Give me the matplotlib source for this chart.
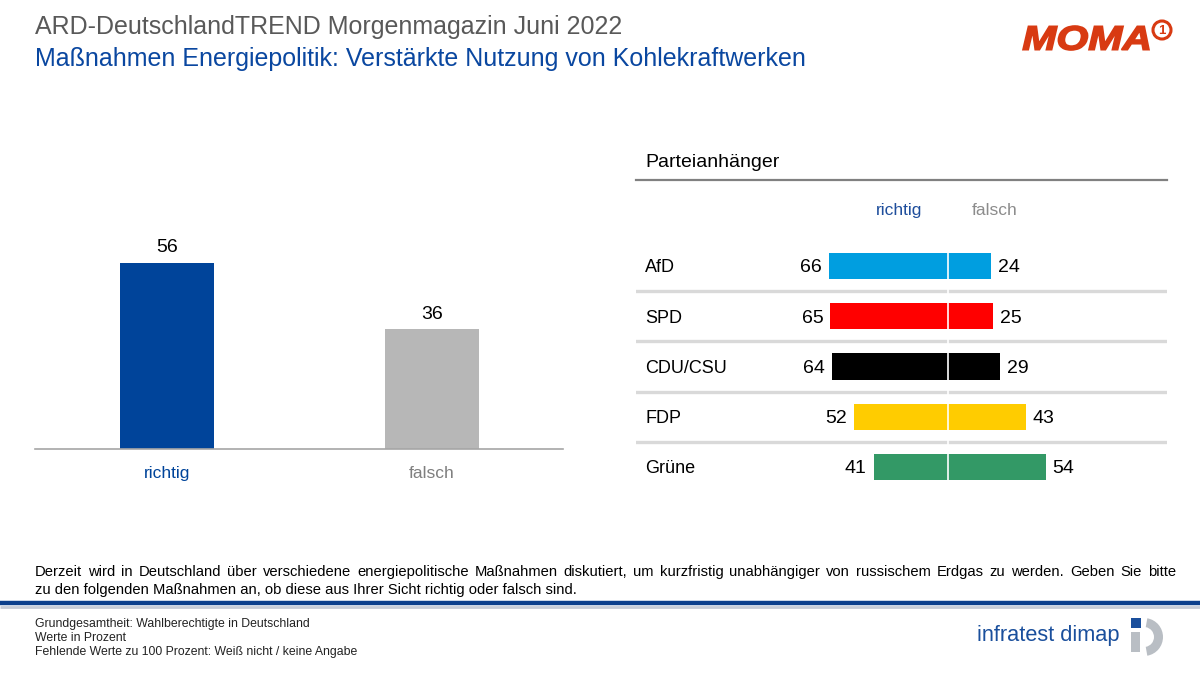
import matplotlib
matplotlib.use('Agg')
import matplotlib.pyplot as plt
from matplotlib.patches import Rectangle, Wedge, Circle, PathPatch
from matplotlib.textpath import TextPath
from matplotlib.font_manager import FontProperties
from matplotlib.transforms import Affine2D

plt.rcParams['font.family'] = ['Liberation Sans', 'DejaVu Sans']

# data
overall_labels = ['richtig', 'falsch']
overall_values = [56, 36]

parties = ['AfD', 'SPD', 'CDU/CSU', 'FDP', 'Grüne']
richtig = [66, 65, 64, 52, 41]
falsch = [24, 25, 29, 43, 54]
party_colors = ['#009EE0', '#FF0000', '#000000', '#FFCC00', '#339966']

title = 'ARD-DeutschlandTREND Morgenmagazin Juni 2022'
subtitle = 'Maßnahmen Energiepolitik: Verstärkte Nutzung von Kohlekraftwerken'
question = ['Derzeit wird in Deutschland über verschiedene energiepolitische Maßnahmen diskutiert, um kurzfristig '
            'unabhängiger von russischem Erdgas zu werden. Geben Sie bitte',
            'zu den folgenden Maßnahmen an, ob diese aus Ihrer Sicht richtig oder falsch sind.']
notes = ['Grundgesamtheit: Wahlberechtigte in Deutschland',
         'Werte in Prozent',
         'Fehlende Werte zu 100 Prozent: Weiß nicht / keine Angabe']

BLUE = '#00449A'
GREY = '#B7B7B7'
W, H = 1200, 675

fig = plt.figure(figsize=(12, 6.75), dpi=100)


def px_axes(x0, y0, x1, y1, **kw):
    # axes placed by pixel box (top-left origin)
    return fig.add_axes([x0 / W, 1 - y1 / H, (x1 - x0) / W, (y1 - y0) / H], **kw)


# background layer in pixel coordinates for texts, rules and logos
bg = px_axes(0, 0, W, H)
bg.set_xlim(0, W)
bg.set_ylim(H, 0)
bg.axis('off')

bg.text(35, 34, title, fontsize=18, color='#595959', va='baseline')
bg.text(35, 66, subtitle, fontsize=18, color='#0A47A0', va='baseline')

# MOMA logo, stretched wide and heavy
moma = TextPath((0, 0), 'MOMA', size=10,
                prop=FontProperties(family='Liberation Sans', weight='bold', style='italic'))
ext = moma.get_extents()
sx = 126 / ext.width
sy = 24 / ext.height
tr = Affine2D().translate(-ext.x0, -ext.y0).scale(sx, -sy).translate(1023, 50)
bg.add_patch(PathPatch(tr.transform_path(moma), facecolor='#D83A12', edgecolor='#D83A12', lw=1.2))
bg.add_patch(Circle((1162, 30), 9, facecolor='white', edgecolor='#D83A12', lw=2.2))
bg.text(1162, 30.5, '1', fontsize=9.5, color='#D83A12', fontweight='bold', ha='center', va='center')

# justified question text
renderer = fig.canvas.get_renderer()


def justified(line, x0, x1, y, size):
    words = line.split(' ')
    objs = [bg.text(0, y, w, fontsize=size, color='black', va='baseline') for w in words]
    widths = [o.get_window_extent(renderer).width for o in objs]
    gap = ((x1 - x0) - sum(widths)) / (len(words) - 1)
    x = x0
    for o, w in zip(objs, widths):
        o.set_x(x)
        x += w + gap


justified(question[0], 35, 1176, 576, 10.6)
bg.text(35, 594, question[1], fontsize=10.6, color='black', va='baseline')

# bottom rules
bg.plot([0, W], [603, 603], color='#0B3F8C', lw=3.2, solid_capstyle='butt')
bg.plot([0, W], [606.5, 606.5], color='#C5CBD6', lw=2, solid_capstyle='butt')

for i, n in enumerate(notes):
    bg.text(35, 627 + i * 14, n, fontsize=8.8, color='#222222', va='baseline')

# infratest dimap logo
bg.text(977, 641, 'infratest dimap', fontsize=15.7, color='#1A4F9C', va='baseline')
bg.add_patch(Rectangle((1131, 618), 10, 10, facecolor='#1A4F9C', edgecolor='none'))
bg.add_patch(Rectangle((1131, 632), 9, 20, facecolor='#B9BEC4', edgecolor='none'))
bg.add_patch(Wedge((1144, 637), 19, -80, 80, width=9, facecolor='#B9BEC4', edgecolor='none'))

# left chart: overall result
ax1 = px_axes(35, 200, 563, 449)
ax1.bar(range(len(overall_values)), overall_values, width=0.355, color=[BLUE, GREY])
ax1.set_xlim(-0.498, 1.494)
ax1.set_ylim(0, 75)
for s in ['top', 'right', 'left']:
    ax1.spines[s].set_visible(False)
ax1.spines['bottom'].set_color('#A6A6A6')
ax1.spines['bottom'].set_linewidth(1.2)
ax1.set_yticks([])
ax1.set_xticks(range(len(overall_labels)))
ax1.set_xticklabels(overall_labels, fontsize=12.5)
ax1.tick_params(axis='x', length=0, pad=12)
for lab, c in zip(ax1.get_xticklabels(), [BLUE, '#7F7F7F']):
    lab.set_color(c)
for i, v in enumerate(overall_values):
    ax1.annotate(str(v), (i, v), xytext=(0, 5), textcoords='offset points',
                 ha='center', va='bottom', fontsize=14)

# right chart: party supporters
bg.text(645, 167, 'Parteianhänger', fontsize=14, color='black', va='baseline')
bg.plot([636, 1167], [180, 180], color='#808080', lw=1.6)

ax2 = px_axes(636, 180, 1167, 500)
ax2.set_xlim(-172.4, 121.0)
ax2.set_ylim(4.657, -1.711)
ax2.axis('off')
ypos = list(range(len(parties)))
ax2.barh(ypos, [-r for r in richtig], height=0.52, color=party_colors)
ax2.barh(ypos, falsch, height=0.52, color=party_colors)
for i in range(len(parties) - 1):
    ax2.axhline(i + 0.5, color='#D9D9D9', lw=2.4)
ax2.axvline(0, ymin=0.05, ymax=0.79, color='white', lw=1.2)

for i, p in enumerate(parties):
    ax2.text(-167.4, i, p, fontsize=13, va='center_baseline', ha='left')
    ax2.annotate(str(richtig[i]), (-richtig[i], i), xytext=(-5, 0), textcoords='offset points',
                 ha='right', va='center_baseline', fontsize=14)
    ax2.annotate(str(falsch[i]), (falsch[i], i), xytext=(5, 0), textcoords='offset points',
                 ha='left', va='center_baseline', fontsize=14)

ax2.text(-14, -1.1, 'richtig', fontsize=12.5, color='#1F4E9C', ha='right', va='center')
ax2.text(13, -1.1, 'falsch', fontsize=12.5, color='#8C8C8C', ha='left', va='center')

fig.savefig('out.png', dpi=100)
